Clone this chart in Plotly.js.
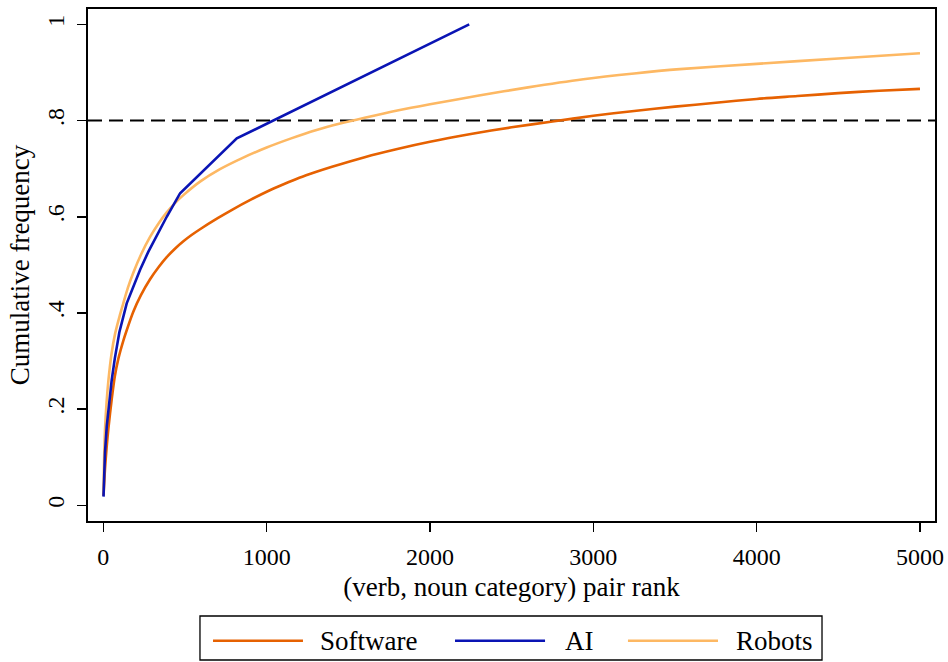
<!DOCTYPE html>
<html>
<head>
<meta charset="utf-8">
<script src="https://cdn.plot.ly/plotly-3.0.1.min.js"></script>
<style>html,body{margin:0;padding:0;background:#fff;}#chart{width:948px;height:662px;}</style>
</head>
<body>
<div id="chart"></div>
<script>
// ---- data ----
const seriesNames = ["Software", "AI", "Robots"];
const seriesColors = ["#e66101", "#0a14b4", "#fdb863"];

const softwareRank = [1, 10, 20, 31, 51, 70, 92, 122, 143, 184, 230, 286, 340, 388, 440, 490, 540, 592, 700, 796, 900, 1000, 1100, 1200, 1300, 1400, 1600, 1800, 2000, 2250, 2500, 2750, 3000, 3250, 3500, 3750, 4000, 4250, 4500, 4750, 5000];
const softwareFreq = [0.02, 0.075, 0.12, 0.16, 0.22, 0.268, 0.305, 0.342, 0.364, 0.403, 0.437, 0.47, 0.496, 0.516, 0.534, 0.549, 0.562, 0.574, 0.597, 0.616, 0.635, 0.652, 0.667, 0.681, 0.693, 0.704, 0.724, 0.741, 0.756, 0.772, 0.786, 0.798, 0.810, 0.820, 0.829, 0.837, 0.845, 0.851, 0.857, 0.862, 0.866];

const aiRank = [1, 5, 10, 21, 35, 51, 70, 98, 143, 185, 225, 275, 327, 388, 470, 817, 2240];
const aiFreq = [0.018, 0.07, 0.11, 0.165, 0.215, 0.26, 0.305, 0.36, 0.42, 0.458, 0.49, 0.527, 0.562, 0.60, 0.649, 0.763, 1.0];

const robotsRank = [1, 5, 10, 20, 31, 50, 72, 100, 122, 150, 184, 230, 286, 340, 388, 440, 490, 592, 714, 850, 1000, 1150, 1300, 1450, 1600, 1800, 2000, 2300, 2600, 2939, 3250, 3530, 4000, 4500, 5000];
const robotsFreq = [0.03, 0.10, 0.157, 0.215, 0.26, 0.315, 0.357, 0.394, 0.42, 0.452, 0.484, 0.521, 0.558, 0.587, 0.609, 0.629, 0.645, 0.673, 0.699, 0.722, 0.744, 0.763, 0.780, 0.794, 0.806, 0.821, 0.834, 0.852, 0.869, 0.886, 0.898, 0.907, 0.918, 0.929, 0.94];

const thresholdY = 0.8;

const xTickVals = [0, 1000, 2000, 3000, 4000, 5000];
const xTickText = ["0", "1000", "2000", "3000", "4000", "5000"];
const yTickVals = [0, 0.2, 0.4, 0.6, 0.8, 1];
const yTickText = ["0", ".2", ".4", ".6", ".8", "1"];

const xTitle = "(verb, noun category) pair rank";
const yTitle = "Cumulative frequency";

// ---- chart ----
const FONT = "'Liberation Serif', 'Times New Roman', serif";
const TICK_SIZE = 24, TITLE_SIZE = 27;
const xs = [softwareRank, aiRank, robotsRank];
const ys = [softwareFreq, aiFreq, robotsFreq];
const lineShape = ["spline", "linear", "spline"];
const order = [0, 2, 1];
const traces = order.map(i => ({
  x: xs[i], y: ys[i], type: "scatter", mode: "lines", name: seriesNames[i],
  line: {color: seriesColors[i], width: 2.6, shape: lineShape[i], smoothing: 0.8},
  showlegend: false, hoverinfo: "x+y+name"
}));

// custom legend geometry (paper coords)
const legBox = {x0: 0.1322, x1: 0.8666, y0: -0.2715, y1: -0.1855};
const legLineX = [[0.1476, 0.2538], [0.4333, 0.5396], [0.6375, 0.7438]];
const legTextX = [0.2715, 0.5608, 0.7627];
const legY = -0.234;

const shapes = [
  {type: "line", xref: "paper", x0: 0, x1: 1, yref: "y", y0: thresholdY, y1: thresholdY,
   line: {color: "#000", width: 2, dash: "14px,7px"}, layer: "below"},
  {type: "rect", xref: "paper", yref: "paper", x0: legBox.x0, x1: legBox.x1, y0: legBox.y0, y1: legBox.y1,
   line: {color: "#000", width: 1.3}, fillcolor: "rgba(0,0,0,0)"}
];
const annotations = [];
seriesNames.forEach((n, i) => {
  shapes.push({type: "line", xref: "paper", yref: "paper", x0: legLineX[i][0], x1: legLineX[i][1], y0: legY, y1: legY,
    line: {color: seriesColors[i], width: 2.6}});
  annotations.push({xref: "paper", yref: "paper", x: legTextX[i], y: legY, xanchor: "left", yanchor: "middle",
    text: n, showarrow: false, font: {family: FONT, size: TITLE_SIZE, color: "#000"}});
});

const layout = {
  width: 948, height: 662,
  margin: {l: 88, r: 13, t: 9, b: 141},
  paper_bgcolor: "#fff", plot_bgcolor: "#fff",
  font: {family: FONT, size: TICK_SIZE, color: "#000"},
  showlegend: false,
  xaxis: {
    range: [-94, 5092], tickmode: "array", tickvals: xTickVals, ticktext: xTickText,
    ticks: "outside", ticklen: 9, tickwidth: 1.5, tickcolor: "#000",
    showline: true, mirror: true, linewidth: 2, linecolor: "#000",
    showgrid: false, zeroline: false, ticklabelstandoff: 4,
    tickfont: {family: FONT, size: TICK_SIZE, color: "#000"},
    title: {text: xTitle, standoff: 8, font: {family: FONT, size: TITLE_SIZE, color: "#000"}}
  },
  yaxis: {
    range: [-0.0326, 1.032], tickmode: "array", tickvals: yTickVals, ticktext: yTickText,
    tickangle: -90,
    ticks: "outside", ticklen: 9, tickwidth: 1.5, tickcolor: "#000",
    showline: true, mirror: true, linewidth: 2, linecolor: "#000",
    showgrid: false, zeroline: false, ticklabelstandoff: 3,
    tickfont: {family: FONT, size: TICK_SIZE, color: "#000"},
    title: {text: yTitle, standoff: 6, font: {family: FONT, size: TITLE_SIZE, color: "#000"}}
  },
  shapes: shapes,
  annotations: annotations
};

Plotly.newPlot("chart", traces, layout, {displayModeBar: false, staticPlot: true});
</script>
</body>
</html>
